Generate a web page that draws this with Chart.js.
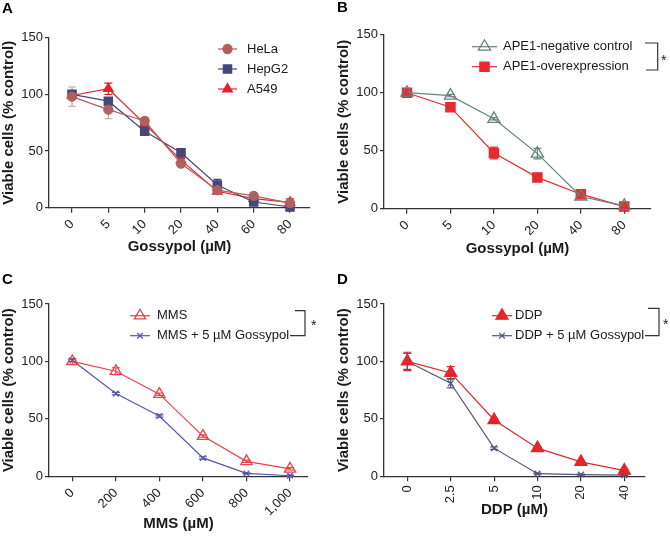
<!DOCTYPE html>
<html>
<head>
<meta charset="utf-8">
<script src="https://cdn.jsdelivr.net/npm/chart.js@4.4.1/dist/chart.umd.min.js"></script>
<style>
    body { margin: 0; background: #fff; }
    .panel { position: absolute; width: 335px; height: 269px; }
</style>
</head>
<body>
<div class="panel" style="left:0;top:0"><canvas id="chartA" width="335" height="269"></canvas></div>
<div class="panel" style="left:335px;top:0"><canvas id="chartB" width="335" height="269"></canvas></div>
<div class="panel" style="left:0;top:269px"><canvas id="chartC" width="335" height="269"></canvas></div>
<div class="panel" style="left:335px;top:269px"><canvas id="chartD" width="335" height="269"></canvas></div>
<script>
// --- DATA ---
const yTicks = [0, 50, 100, 150];

// A: three cell lines vs gossypol
const gossypolA = ['0', '5', '10', '20', '40', '60', '80'];
const helaVals  = [98, 86.5, 76.5, 39, 15.5, 10.5, 4];
const helaErr   = [8.5, 8, 3, 1.5, 1.5, 1, 1.5];
const hepg2Vals = [100, 94, 67.5, 48.5, 20, 5, 0.6];
const hepg2Err  = [1.5, 1.5, 1.5, 1.5, 5, 1, 0.5];
const a549Vals  = [99, 105, 74, 42, 14.5, 8, 4.7];
const a549Err   = [1.5, 5, 4, 1.5, 1.5, 1, 3];

// B: APE1 control vs overexpression
const gossypolB = ['0', '5', '10', '20', '40', '80'];
const ctrlVals  = [100, 97.5, 77.5, 47.5, 10.5, 2.5];
const ctrlErr   = [1.5, 1, 1, 4.5, 1, 0.5];
const overVals  = [100, 87.5, 48, 27, 12.5, 1.8];
const overErr   = [2, 1, 5, 1, 1, 0.5];

// C: MMS +/- gossypol
const mmsLabels  = ['0', '200', '400', '600', '800', '1,000'];
const mmsVals    = [100, 91.5, 71.5, 35, 13, 6.5];
const mmsErr     = [2.5, 3, 1, 1, 1, 1];
const mmsGosVals = [101, 72, 52.5, 16, 2.5, 0.5];
const mmsGosErr  = [1, 1, 1, 1, 0.5, 0.5];

// D: DDP +/- gossypol
const ddpLabels  = ['0', '2.5', '5', '10', '20', '40'];
const ddpVals    = [100, 90, 49, 24.5, 12.5, 5];
const ddpErr     = [8, 5.5, 1, 1, 1, 1];
const ddpGosVals = [100, 81, 24.5, 2.3, 1.5, 1];
const ddpGosErr  = [7, 4, 1, 0.5, 0.5, 0.5];

const FONT = 'Liberation Sans, Arial, sans-serif';
Chart.defaults.font.family = FONT;
Chart.defaults.color = '#1a1a1a';

const toPoints = vals => vals.map((v, i) => ({ x: i, y: v }));

// vertical error bars with caps
const errorBars = {
    id: 'errorBars',
    beforeDatasetsDraw(chart) {
        const { ctx, scales: { x, y } } = chart;
        chart.data.datasets.forEach(ds => {
            if (!ds.errors) return;
            ctx.save();
            ctx.strokeStyle = ds.errorColor || ds.borderColor;
            ctx.lineWidth = 1.2;
            ds.data.forEach((p, j) => {
                const e = ds.errors[j];
                if (!e) return;
                const px = x.getPixelForValue(p.x);
                const top = y.getPixelForValue(p.y + e);
                const bot = y.getPixelForValue(Math.max(p.y - e, 0));
                ctx.beginPath();
                ctx.moveTo(px, top); ctx.lineTo(px, bot);
                ctx.moveTo(px - 4, top); ctx.lineTo(px + 4, top);
                ctx.moveTo(px - 4, bot); ctx.lineTo(px + 4, bot);
                ctx.stroke();
            });
            ctx.restore();
        });
    }
};

// legend inside the plot, significance bracket and panel letter
const panelLegend = {
    id: 'panelLegend',
    afterDraw(chart, args, opts) {
        const ctx = chart.ctx;
        ctx.save();
        chart.data.datasets.forEach((ds, i) => {
            const y = opts.y0 + i * opts.gap;
            ctx.strokeStyle = ds.borderColor;
            ctx.lineWidth = 1.2;
            ctx.beginPath(); ctx.moveTo(opts.x0, y); ctx.lineTo(opts.x1, y); ctx.stroke();
            ctx.fillStyle = ds.pointBackgroundColor;
            ctx.strokeStyle = ds.pointBorderColor;
            ctx.lineWidth = ds.pointBorderWidth;
            Chart.helpers.drawPoint(ctx, {
                pointStyle: ds.pointStyle, radius: ds.pointRadius, rotation: 0, borderWidth: ds.pointBorderWidth
            }, (opts.x0 + opts.x1) / 2, y);
            ctx.fillStyle = '#1a1a1a';
            ctx.font = '13px ' + FONT;
            ctx.textBaseline = 'middle';
            ctx.fillText(ds.label, opts.tx, y);
        });
        const b = opts.bracket;
        if (b) {
            ctx.strokeStyle = '#333';
            ctx.lineWidth = 1.2;
            ctx.beginPath();
            ctx.moveTo(b.xTop, b.yTop); ctx.lineTo(b.xr, b.yTop);
            ctx.lineTo(b.xr, b.yBot); ctx.lineTo(b.xBot, b.yBot);
            ctx.stroke();
            ctx.fillStyle = '#1a1a1a';
            ctx.font = '14px ' + FONT;
            ctx.textBaseline = 'alphabetic';
            ctx.fillText('*', b.sx, b.sy + 7);
        }
        ctx.fillStyle = '#000';
        ctx.font = 'bold 15px ' + FONT;
        ctx.textBaseline = 'alphabetic';
        ctx.fillText(opts.letter, 2, opts.letterY);
        ctx.restore();
    }
};

function series(label, vals, errs, color, style, radius, fill, errColor) {
    return {
        label,
        data: toPoints(vals),
        errors: errs,
        errorColor: errColor || color,
        borderColor: color,
        borderWidth: 1.2,
        pointStyle: style,
        pointRadius: radius,
        pointBackgroundColor: fill,
        pointBorderColor: color,
        pointBorderWidth: 1.3,
        tension: 0,
        clip: false
    };
}

function makePanel(id, labels, datasets, g, legend) {
    new Chart(document.getElementById(id), {
        type: 'line',
        data: { datasets },
        plugins: [errorBars, panelLegend],
        options: {
            responsive: false,
            animation: false,
            layout: { padding: { top: g.top, right: 335 - g.right, bottom: 269 - (g.titleY + 9), left: 0 } },
            plugins: { legend: { display: false }, tooltip: { enabled: false }, panelLegend: legend },
            scales: {
                x: {
                    type: 'linear',
                    min: g.xMin,
                    max: g.xMax,
                    afterBuildTicks: s => { s.ticks = labels.map((_, i) => ({ value: i })); },
                    afterFit: s => { s.height = g.titleY + 9 - g.bottom; },
                    ticks: {
                        callback: v => labels[v],
                        minRotation: g.rot, maxRotation: g.rot, autoSkip: false,
                        font: { size: 13 }, color: '#222', padding: 4
                    },
                    grid: { drawOnChartArea: false, tickLength: 5, color: '#333', lineWidth: 1.2 },
                    border: { color: '#333', width: 1.3 },
                    title: { display: true, text: g.xTitle, font: { size: 15, weight: 'bold' }, padding: 0, color: '#1a1a1a' }
                },
                y: {
                    min: 0,
                    max: 150,
                    afterBuildTicks: s => { s.ticks = yTicks.map(v => ({ value: v })); },
                    afterFit: s => { s.width = 49; },
                    ticks: { font: { size: 13 }, color: '#222', padding: 2 },
                    grid: { drawOnChartArea: false, tickLength: 4, color: '#333', lineWidth: 1.2 },
                    border: { color: '#333', width: 1.3 },
                    title: { display: true, text: 'Viable cells (% control)', font: { size: 15, weight: 'bold' }, padding: 0, color: '#1a1a1a' }
                }
            }
        }
    });
}

makePanel('chartA', gossypolA, [
    series('HeLa', helaVals, helaErr, '#b0605f', 'circle', 4.5, '#b0605f', '#d69a9a'),
    series('HepG2', hepg2Vals, hepg2Err, '#45467a', 'rect', 5.8, '#45467a'),
    series('A549', a549Vals, a549Err, '#e8202a', 'triangle', 5.5, '#e8202a')
], { top: 37.7, bottom: 207.7, right: 310, xMin: -0.633, xMax: 6.55, titleY: 247, rot: 45, xTitle: 'Gossypol (µM)' },
{ x0: 218, x1: 237, tx: 247, y0: 49, gap: 20, letter: 'A', letterY: 12.7 });

makePanel('chartB', gossypolB, [
    series('APE1-negative control', ctrlVals, ctrlErr, '#66857a', 'triangle', 7, 'rgba(255,255,255,0)'),
    series('APE1-overexpression', overVals, overErr, '#e62a30', 'rect', 6.5, '#e62a30')
], { top: 34.7, bottom: 208.7, right: 316, xMin: -0.529, xMax: 5.614, titleY: 248.5, rot: 45, xTitle: 'Gossypol (µM)' },
{ x0: 137, x1: 162, tx: 168, y0: 46.7, gap: 20, letter: 'B', letterY: 12,
  bracket: { xTop: 310, xBot: 311, xr: 322.7, yTop: 43, yBot: 70, sx: 326, sy: 58 } });

makePanel('chartC', mmsLabels, [
    series('MMS', mmsVals, mmsErr, '#e8434b', 'triangle', 6.5, 'rgba(255,255,255,0)'),
    series('MMS + 5 µM Gossypol', mmsGosVals, mmsGosErr, '#5558a5', 'crossRot', 4, '#5558a5')
], { top: 35, bottom: 207.3, right: 308, xMin: -0.535, xMax: 5.413, titleY: 255, rot: 45, xTitle: 'MMS (µM)' },
{ x0: 130, x1: 150, tx: 157, y0: 46.7, gap: 20, letter: 'C', letterY: 15,
  bracket: { xTop: 295, xBot: 290, xr: 305, yTop: 41.7, yBot: 66.7, sx: 311, sy: 54 } });

makePanel('chartD', ddpLabels, [
    series('DDP', ddpVals, ddpErr, '#e4252b', 'triangle', 7, '#e4252b'),
    series('DDP + 5 µM Gossypol', ddpGosVals, ddpGosErr, '#55567f', 'crossRot', 4, '#55567f')
], { top: 35, bottom: 207.3, right: 310, xMin: -0.537, xMax: 5.477, titleY: 241, rot: 90, xTitle: 'DDP (µM)' },
{ x0: 157, x1: 177, tx: 180, y0: 46.7, gap: 20, letter: 'D', letterY: 15,
  bracket: { xTop: 313, xBot: 310, xr: 324, yTop: 39.3, yBot: 66.7, sx: 328, sy: 53.3 } });
</script>
</body>
</html>
